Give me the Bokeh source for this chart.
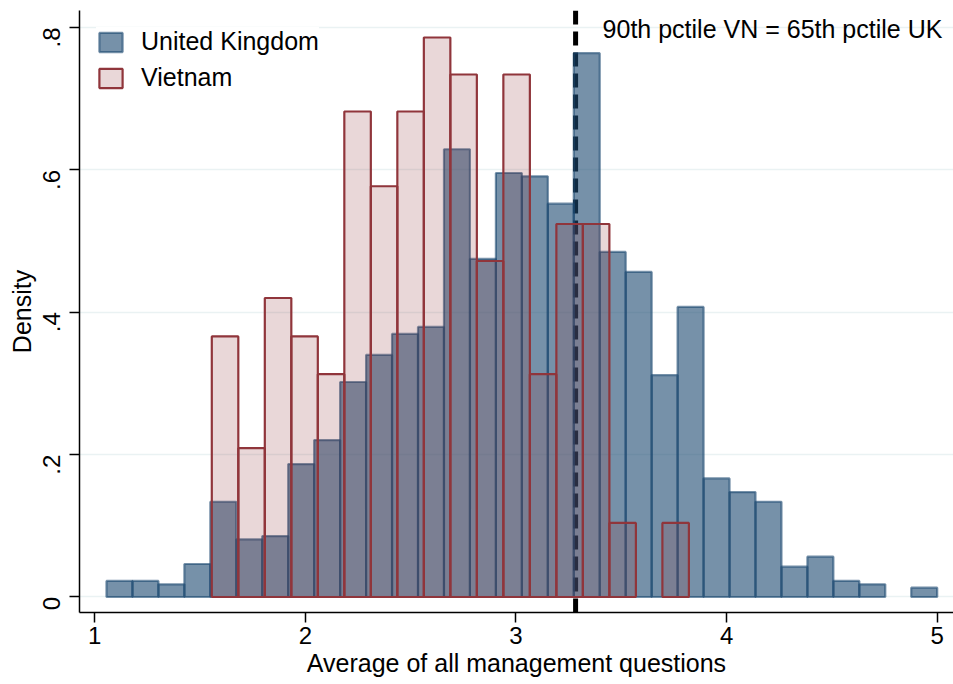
import math
from bokeh.plotting import figure
from bokeh.models import (ColumnDataSource, Range1d, FixedTicker, Span, Label,
                          Legend, LegendItem)
from bokeh.embed import file_html
from bokeh.resources import INLINE

# ---------------- data ----------------
# UK histogram: 32 equal bins between uk_min and uk_max
uk_min = 1.0556
uk_max = 5.0
uk_density = [0.0225, 0.0225, 0.0178, 0.0463, 0.1338, 0.0810, 0.0856, 0.1867,
              0.2204, 0.3020, 0.3400, 0.3696, 0.3794, 0.6290, 0.4749, 0.5956,
              0.5910, 0.5525, 0.7640, 0.4847, 0.4566, 0.3116, 0.4075, 0.1666,
              0.1474, 0.1338, 0.0426, 0.0566, 0.0225, 0.0178, 0.0, 0.0131]
# Vietnam histogram: 18 equal bins between vn_min and vn_max
vn_min = 1.5556
vn_max = 3.8210
vn_density = [0.366, 0.209, 0.420, 0.366, 0.313, 0.682, 0.577, 0.682, 0.786,
              0.734, 0.472, 0.734, 0.313, 0.524, 0.524, 0.104, 0.0, 0.104]
vn_p90 = 3.283   # 90th percentile VN = 65th percentile UK

x_ticks = [1, 2, 3, 4, 5]
y_ticks = [0, 0.2, 0.4, 0.6, 0.8]
y_tick_labels = ["0", ".2", ".4", ".6", ".8"]

series_names = ["United Kingdom", "Vietnam"]
annotation_text = "90th pctile VN = 65th pctile UK"
x_title = "Average of all management questions"
y_title = "Density"


def hist_source(lo, hi, dens):
    n = len(dens)
    w = (hi - lo) / n
    left, right, top = [], [], []
    for i, d in enumerate(dens):
        if d > 0:
            left.append(lo + i * w)
            right.append(lo + (i + 1) * w)
            top.append(d)
    return ColumnDataSource(dict(left=left, right=right, top=top,
                                 bottom=[0] * len(top)))


uk_src = hist_source(uk_min, uk_max, uk_density)
vn_src = hist_source(vn_min, vn_max, vn_density)

NAVY = "#1A476F"
MAROON = "#90353B"
FONT = "Liberation Sans"
FS = "25px"

p = figure(width=953, height=684, output_backend="svg", toolbar_location=None,
           x_range=Range1d(0.9274, 5.0774), y_range=Range1d(-0.0218, 0.8239),
           min_border_left=79, min_border_right=0, min_border_top=10,
           min_border_bottom=72)
p.outline_line_color = None
p.background_fill_color = "white"
p.border_fill_color = "white"

# grid
p.xgrid.visible = False
p.ygrid.ticker = FixedTicker(ticks=y_ticks)
p.ygrid.grid_line_color = "#EAF2F3"
p.ygrid.grid_line_width = 1.5

# reference line (below the bars)
p.add_layout(Span(location=vn_p90, dimension="height", line_color="black",
                  line_width=5, line_dash="14 7", level="underlay"))

uk_r = p.quad(left="left", right="right", top="top", bottom="bottom",
              source=uk_src, fill_color=NAVY, fill_alpha=0.6,
              line_color=NAVY, line_alpha=0.6, line_width=2.2)
vn_r = p.quad(left="left", right="right", top="top", bottom="bottom",
              source=vn_src, fill_color=MAROON, fill_alpha=0.2,
              line_color=MAROON, line_alpha=1.0, line_width=2.2)

p.add_layout(Label(x=vn_p90, y=0.798, x_offset=27, text=annotation_text,
                   text_font=FONT, text_font_size=FS, text_color="black",
                   text_baseline="alphabetic", text_align="left"))

# axes
for ax in (p.xaxis[0], p.yaxis[0]):
    ax.axis_line_color = "black"
    ax.axis_line_width = 1.5
    ax.major_tick_line_color = "black"
    ax.major_tick_line_width = 1.5
    ax.major_tick_out = 10
    ax.major_tick_in = 0
    ax.minor_tick_line_color = None
    ax.major_label_text_font = FONT
    ax.major_label_text_font_size = "24px"
    ax.major_label_text_color = "black"
    ax.axis_label_text_font = FONT
    ax.axis_label_text_font_size = FS
    ax.axis_label_text_font_style = "normal"
    ax.axis_label_text_color = "black"

p.xaxis.ticker = FixedTicker(ticks=x_ticks)
p.xaxis.axis_label = x_title
p.xaxis.major_label_standoff = 4
p.xaxis.axis_label_standoff = 2

p.yaxis.ticker = FixedTicker(ticks=y_ticks)
p.yaxis.major_label_overrides = {t: s for t, s in zip(y_ticks, y_tick_labels)}
p.yaxis.major_label_orientation = math.pi / 2
p.yaxis.axis_label = y_title
p.yaxis.major_label_standoff = 18
p.yaxis.axis_label_standoff = -4

legend = Legend(items=[LegendItem(label=series_names[0], renderers=[uk_r]),
                       LegendItem(label=series_names[1], renderers=[vn_r])],
                location="top_left", margin=17, padding=12, spacing=7,
                glyph_width=29, glyph_height=24, label_standoff=16,
                label_text_font=FONT, label_text_font_size=FS,
                label_text_color="black", border_line_color=None,
                background_fill_color="white", background_fill_alpha=1.0)
p.add_layout(legend)

open("out.html", "w").write(file_html(p, INLINE))
